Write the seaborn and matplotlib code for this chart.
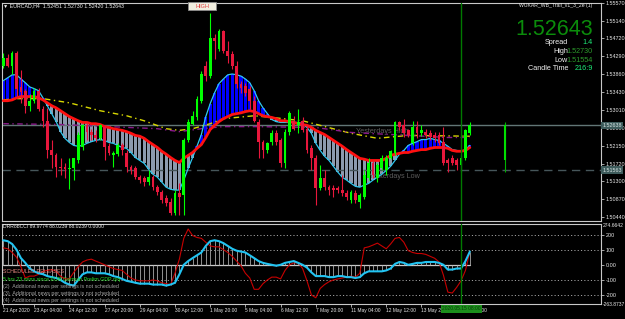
import numpy as np
import pandas as pd
import matplotlib
matplotlib.use("Agg")
import matplotlib.pyplot as plt
from matplotlib.patches import Rectangle
import matplotlib.transforms as mtransforms
import seaborn as sns

sns.set_style("dark")
plt.rcParams['font.family'] = ['Liberation Sans', 'DejaVu Sans']
plt.rcParams['patch.edgecolor'] = 'none'
plt.rcParams['patch.linewidth'] = 0

# ---------------- data (EURCAD H4) ----------------
opens = [1.5406,1.5425,1.5406,1.5437,1.5356,1.5347,1.5311,1.5323,1.5347,1.5304,
         1.5275,1.5204,1.5192,1.5164,1.5164,1.5159,1.5161,1.5180,1.5211,1.5264,
         1.5247,1.5240,1.5233,1.5259,1.5214,1.5192,1.5195,1.5216,1.5199,1.5164,
         1.5161,1.5140,1.5137,1.5128,1.5140,1.5116,1.5104,1.5090,1.5080,1.5054,
         1.5102,1.5097,1.5228,1.5268,1.5283,1.5323,1.5406,1.5382,1.5473,1.5447,
         1.5490,1.5442,1.5435,1.5406,1.5364,1.5359,1.5352,1.5323,1.5271,1.5223,
         1.5204,1.5223,1.5245,1.5228,1.5175,1.5247,1.5275,1.5264,1.5275,1.5256,
         1.5209,1.5187,1.5114,1.5137,1.5116,1.5114,1.5114,1.5109,1.5102,1.5085,
         1.5102,1.5080,1.5092,1.5137,1.5175,1.5137,1.5161,1.5156,1.5187,1.5199,
         1.5271,1.5266,1.5252,1.5221,1.5259,1.5245,1.5247,1.5245,1.5242,1.5240,
         1.5223,1.5180,1.5187,1.5180,1.5168,1.5185,1.52451]
highs = [1.5437,1.5435,1.5442,1.5442,1.5397,1.5352,1.5340,1.5354,1.5354,1.5311,
         1.5306,1.5228,1.5199,1.5185,1.5175,1.5185,1.5187,1.5247,1.5268,1.5271,
         1.5256,1.5252,1.5268,1.5264,1.5221,1.5202,1.5221,1.5221,1.5204,1.5168,
         1.5166,1.5145,1.5142,1.5156,1.5145,1.5121,1.5109,1.5097,1.5090,1.5109,
         1.5125,1.5233,1.5280,1.5299,1.5335,1.5394,1.5418,1.5532,1.5482,1.5494,
         1.5492,1.5466,1.5442,1.5418,1.5371,1.5366,1.5359,1.5335,1.5280,1.5228,
         1.5223,1.5252,1.5252,1.5233,1.5256,1.5299,1.5287,1.5304,1.5283,1.5264,
         1.5216,1.5192,1.5168,1.5156,1.5121,1.5121,1.5118,1.5145,1.5109,1.5109,
         1.5109,1.5102,1.5156,1.5185,1.5180,1.5175,1.5192,1.5192,1.5206,1.5275,
         1.5275,1.5280,1.5256,1.5275,1.5275,1.5264,1.5256,1.5252,1.5247,1.5247,
         1.5259,1.5185,1.5192,1.5187,1.5192,1.5256,1.52730]
lows = [1.5402,1.5404,1.5387,1.5335,1.5318,1.5294,1.5299,1.5318,1.5299,1.5259,
        1.5187,1.5161,1.5140,1.5145,1.5137,1.5111,1.5133,1.5173,1.5204,1.5228,
        1.5228,1.5223,1.5228,1.5180,1.5192,1.5164,1.5190,1.5192,1.5152,1.5147,
        1.5135,1.5125,1.5118,1.5121,1.5109,1.5097,1.5078,1.5071,1.5049,1.5049,
        1.5049,1.5049,1.5223,1.5264,1.5278,1.5318,1.5371,1.5378,1.5423,1.5442,
        1.5437,1.5413,1.5399,1.5354,1.5342,1.5335,1.5304,1.5271,1.5187,1.5187,
        1.5199,1.5216,1.5216,1.5164,1.5161,1.5242,1.5252,1.5245,1.5247,1.5199,
        1.5156,1.5073,1.5109,1.5109,1.5097,1.5092,1.5102,1.5095,1.5085,1.5078,
        1.5078,1.5066,1.5087,1.5133,1.5137,1.5128,1.5156,1.5145,1.5183,1.5192,
        1.5252,1.5235,1.5235,1.5216,1.5233,1.5238,1.5233,1.5228,1.5225,1.5216,
        1.5168,1.5152,1.5168,1.5156,1.5152,1.5180,1.52420]
closes = [1.5425,1.5406,1.5437,1.5352,1.5344,1.5311,1.5323,1.5347,1.5304,1.5275,
          1.5204,1.5192,1.5164,1.5161,1.5159,1.5161,1.5185,1.5240,1.5264,1.5247,
          1.5240,1.5233,1.5264,1.5211,1.5199,1.5197,1.5216,1.5204,1.5164,1.5156,
          1.5140,1.5133,1.5128,1.5140,1.5116,1.5104,1.5085,1.5078,1.5054,1.5102,
          1.5092,1.5228,1.5271,1.5287,1.5328,1.5387,1.5382,1.5473,1.5466,1.5490,
          1.5442,1.5430,1.5406,1.5364,1.5354,1.5342,1.5323,1.5275,1.5223,1.5204,
          1.5221,1.5245,1.5223,1.5175,1.5247,1.5294,1.5256,1.5271,1.5252,1.5204,
          1.5185,1.5114,1.5137,1.5116,1.5109,1.5109,1.5109,1.5102,1.5092,1.5104,
          1.5085,1.5097,1.5145,1.5175,1.5145,1.5168,1.5185,1.5187,1.5202,1.5271,
          1.5259,1.5245,1.5240,1.5259,1.5245,1.5252,1.5240,1.5235,1.5233,1.5221,
          1.5175,1.5175,1.5175,1.5168,1.5185,1.5252,1.52643]

trail_red = [1.5323,1.5323,1.5325,1.5330,1.5333,1.5333,1.5333,1.5333,1.5330,1.5325,
             1.5318,1.5311,1.5306,1.5299,1.5292,1.5285,1.5280,1.5275,1.5271,1.5271,
             1.5268,1.5268,1.5266,1.5261,1.5259,1.5256,1.5254,1.5252,1.5249,1.5245,
             1.5240,1.5238,1.5233,1.5225,1.5218,1.5211,1.5202,1.5195,1.5187,1.5180,
             1.5175,1.5185,1.5192,1.5199,1.5209,1.5218,1.5235,1.5254,1.5264,1.5273,
             1.5280,1.5285,1.5290,1.5292,1.5294,1.5297,1.5299,1.5297,1.5292,1.5287,
             1.5285,1.5283,1.5280,1.5275,1.5275,1.5273,1.5271,1.5268,1.5266,1.5264,
             1.5259,1.5252,1.5247,1.5242,1.5235,1.5228,1.5221,1.5214,1.5206,1.5199,
             1.5192,1.5185,1.5183,1.5180,1.5180,1.5180,1.5180,1.5185,1.5192,1.5195,
             1.5197,1.5199,1.5199,1.5202,1.5204,1.5206,1.5206,1.5209,1.5211,1.5211,
             1.5211,1.5209,1.5204,1.5202,1.5202,1.5204,1.5211]
trail_cyan = [1.5371,1.5378,1.5385,1.5385,1.5375,1.5366,1.5356,1.5352,1.5347,1.5330,
              1.5311,1.5292,1.5273,1.5249,1.5233,1.5223,1.5216,1.5214,1.5216,1.5221,
              1.5225,1.5228,1.5230,1.5228,1.5223,1.5221,1.5216,1.5211,1.5209,1.5199,
              1.5187,1.5180,1.5173,1.5159,1.5147,1.5140,1.5128,1.5116,1.5111,1.5109,
              1.5109,1.5133,1.5161,1.5187,1.5214,1.5242,1.5285,1.5316,1.5342,1.5364,
              1.5375,1.5385,1.5387,1.5385,1.5382,1.5375,1.5366,1.5347,1.5323,1.5306,
              1.5292,1.5278,1.5273,1.5271,1.5271,1.5271,1.5271,1.5271,1.5268,1.5259,
              1.5245,1.5221,1.5204,1.5190,1.5180,1.5166,1.5152,1.5140,1.5133,1.5125,
              1.5118,1.5116,1.5121,1.5125,1.5133,1.5140,1.5147,1.5156,1.5166,1.5180,
              1.5195,1.5204,1.5216,1.5221,1.5225,1.5230,1.5230,1.5233,1.5230,1.5228,
              1.5221,1.5214,1.5206,1.5204,1.5202,1.5206,1.5216]

yellow_idx = [0,3,9,15,22,28,32,37,40,43,47,50,53,57,61,68,72,79,85,92,106]
yellow_ma = [1.5325,1.5328,1.5328,1.5318,1.5299,1.5287,1.5275,1.5256,1.5252,1.5256,
             1.5268,1.5280,1.5283,1.5287,1.5283,1.5275,1.5264,1.5245,1.5233,1.5240,1.5238]
purple_idx = [0,13,35,40,45,50,57,71,79,101,106]
purple_ma = [1.5268,1.5266,1.5256,1.5249,1.5256,1.5261,1.5261,1.5259,1.5247,1.5235,1.5235]

yest_high = 1.52638
yest_low = 1.51563
day_range = (1.5152, 1.5273)
day_body = (1.5180, 1.5266)

cci_cyan = [165,159,140,102,45,13,-25,-44,-57,-63,
            -76,-83,-89,-102,-121,-133,-140,-102,-64,-51,
            -51,-57,-57,-57,-64,-76,-83,-95,-108,-114,
            -121,-127,-127,-127,-133,-133,-133,-140,-133,-121,
            -64,0,25,45,64,83,127,159,165,159,
            146,127,108,95,89,83,64,45,25,13,
            6,0,-6,0,13,19,25,13,0,-19,
            -51,-76,-76,-76,-83,-83,-76,-76,-83,-83,
            -89,-83,-57,-44,-44,-44,-44,-38,-25,6,
            19,13,0,6,13,13,19,19,19,13,
            0,-32,-32,-25,-25,25,89]
cci_red = [114,108,83,51,-13,-89,-76,-76,-64,-44,
           -38,-32,-44,-76,-95,-95,-51,-13,19,32,
           38,25,13,0,-13,-25,-32,-38,-64,-89,
           -102,-108,-108,-108,-102,-108,-121,-127,-133,-57,
           38,178,241,197,184,178,152,127,121,121,
           102,83,57,25,-6,-57,-89,-165,-165,-127,
           -102,-83,-83,-95,-38,0,13,13,-25,-108,
           -203,-222,-159,-133,-114,-102,-95,-89,-83,-76,
           -83,-57,114,121,133,146,127,108,140,178,
           184,152,95,83,76,76,70,57,44,19,
           -70,-184,-190,-152,-108,-38,89]

price_ticks = [1.55570,1.55140,1.54720,1.54290,1.53860,1.53430,1.53010,
               1.52580,1.52150,1.51720,1.51300,1.50870,1.50440]
cci_ticks = [200, 100, 0, -100, -200]
cci_tick_labels = ['200', '100', '0.00', '-100', '-200']
time_tick_idx = [0,7,15,23,31,39,47,55,63,71,79,87,95,103]
time_tick_labels = ['21 Apr 2020','23 Apr 04:00','24 Apr 12:00','27 Apr 20:00',
                    '29 Apr 04:00','30 Apr 12:00','1 May 20:00','5 May 04:00',
                    '6 May 12:00','7 May 20:00','11 May 04:00','12 May 12:00',
                    '13 May 20:00','15 May 04:00']
marker_idx = 104.1
range_idx = 114

# ---------------- figure ----------------
W, H = 625, 319
fig = plt.figure(figsize=(W/100, H/100), dpi=100, facecolor='black')
ax = fig.add_axes([2/W, 1-221/H, 599/W, 218/H])
ax2 = fig.add_axes([2/W, 1-304/H, 599/W, 80/H])
for a in (ax, ax2):
    a.set_facecolor('black')
    a.grid(False)
    for s in a.spines.values():
        s.set_color('#c8c8c8')
        s.set_linewidth(0.8)

n = len(closes)
idx = np.arange(n)
df = pd.DataFrame({'i': idx, 'o': opens, 'h': highs, 'l': lows, 'c': closes,
                   'red': trail_red, 'cyan': trail_cyan,
                   'cci_c': cci_cyan, 'cci_r': cci_red})

# trail histogram between lines
up = df['cyan'] >= df['red']
lo = np.minimum(df['cyan'], df['red'])
hi = np.maximum(df['cyan'], df['red'])
ax.bar(df['i'], hi - lo, bottom=lo, width=0.72, linewidth=0, edgecolor='none',
       color=np.where(up, '#0000FF', '#8C9AAE'), zorder=1)

# horizontal levels
ax.axhline(yest_high, color='#627676', lw=1.0, zorder=1.5)
ax.axhline(yest_low, color='#46565a', lw=1.0, ls=(0, (6, 4)), zorder=1.5)
ax.text(80.2, 1.5250, 'Yesterdays High', color='#5c5c5c', fontsize=5.2,
        va='center', ha='left', zorder=1.6)
ax.text(83, 1.5141, 'Yesterdays Low', color='#5c5c5c', fontsize=5.2,
        va='center', ha='left', zorder=1.6)

# moving averages
sns.lineplot(x=yellow_idx, y=yellow_ma, ax=ax, color='#D8D800', linewidth=1.0, zorder=2)
ax.lines[-1].set_linestyle((0, (4, 2.5, 1, 2.5)))
sns.lineplot(x=purple_idx, y=purple_ma, ax=ax, color='#8A1A8A', linewidth=1.0, zorder=2)
ax.lines[-1].set_linestyle((0, (4, 2.5, 1, 2.5)))
sns.lineplot(data=df, x='i', y='cyan', ax=ax, color='#30C8F0', linewidth=0.9, zorder=3)
sns.lineplot(data=df, x='i', y='red', ax=ax, color='#FF1010', linewidth=2.0, zorder=3)

# candles
bull = df['c'] >= df['o']
ccol = np.where(bull, '#00FF00', '#E8173C')
ax.vlines(df['i'], df['l'], df['h'], colors=ccol, lw=0.8, zorder=4)
body_lo = np.minimum(df['o'], df['c'])
body_h = np.maximum(np.abs(df['c'] - df['o']), 0.00009)
ax.bar(df['i'], body_h, bottom=body_lo, width=0.62, color=ccol, linewidth=0,
       edgecolor='none', zorder=5)

# day range bar and time marker
ax.vlines(range_idx, day_range[0], day_range[1], colors='#00B000', lw=0.8, zorder=4)
ax.vlines(range_idx, day_body[0], day_body[1], colors='#00E000', lw=1.5, zorder=4)
ax.axvline(marker_idx, color='#007A00', lw=1.0, zorder=6)
ax2.axvline(marker_idx, color='#007A00', lw=1.0, zorder=6)

ax.set_xlim(-0.3, 135.8)
ax.set_ylim(1.5035, 1.5554)
ax.set_xticks([])
ax.set_xlabel('')
ax.set_ylabel('')
ax.yaxis.tick_right()
ax.set_yticks(price_ticks)
ax.set_yticklabels([f'{p:.5f}' for p in price_ticks])
ax.tick_params(axis='y', which='both', right=True, left=False, labelright=True,
               labelleft=False, colors='#e8e8e8', labelsize=3.9, length=2.2,
               width=0.5, pad=1.0)
ytr = ax.get_yaxis_transform()
for val in (yest_high, yest_low):
    ax.text(1.002, val, f'{val:.5f}', transform=ytr, ha='left', va='center',
            fontsize=3.9, color='#d8e4e4', clip_on=False, zorder=10,
            bbox=dict(boxstyle='square,pad=0.25', facecolor='#3e5c5c', edgecolor='none'))

# ---------------- oscillator panel ----------------
for lv in (200, 100, -100, -200):
    ax2.axhline(lv, color='#a0a0a0', lw=0.7, ls=(0, (1.2, 2.2)), zorder=1)
ax2.plot([0, n - 1], [0, 0], color='#c8c8c8', lw=0.9, zorder=2)
ax2.vlines(df['i'], 0, df['cci_c'], colors='#a8a8a8', lw=0.6, zorder=2)
sns.lineplot(data=df, x='i', y='cci_r', ax=ax2, color='#C80000', linewidth=0.8, zorder=3)
sns.lineplot(data=df, x='i', y='cci_c', ax=ax2, color='#22C4F2', linewidth=1.5, zorder=4)
ax2.set_xlim(-0.3, 135.8)
ax2.set_ylim(-263.8737, 274.6642)
ax2.set_xlabel('')
ax2.set_ylabel('')
ax2.yaxis.tick_right()
ax2.set_yticks(cci_ticks)
ax2.set_yticklabels(cci_tick_labels)
ax2.tick_params(axis='y', which='both', right=True, left=False, labelright=True,
                labelleft=False, colors='#e8e8e8', labelsize=3.9, length=2.2,
                width=0.5, pad=1.0)
ax2.text(1.003, 0.985, '274.6642', transform=ax2.transAxes, ha='left', va='center',
         fontsize=3.6, color='#e8e8e8', clip_on=False)
ax2.text(1.003, 0.0, '-263.8737', transform=ax2.transAxes, ha='left', va='center',
         fontsize=3.6, color='#e8e8e8', clip_on=False)
ax2.set_xticks(time_tick_idx)
ax2.set_xticklabels(time_tick_labels)
ax2.tick_params(axis='x', which='both', bottom=True, colors='#e8e8e8', labelsize=3.5,
                length=2, width=0.5, pad=1.2)
for t in ax2.get_xticklabels():
    t.set_ha('left')
xtr = mtransforms.blended_transform_factory(ax2.transData, ax2.transAxes)
ax2.text(marker_idx, -0.03, '2020.05.15 08:00', transform=xtr, ha='center', va='top',
         fontsize=3.5, color='#0a3a0a', clip_on=False, zorder=10,
         bbox=dict(boxstyle='square,pad=0.3', facecolor='#1c8f1c', edgecolor='none'))

# ---------------- overlay texts ----------------
def ft(x, y, s, **kw):
    fig.text(x / W, 1 - y / H, s, **kw)

ft(3, 6, '\u25bc EURCAD,H4  1.52451 1.52730 1.52420 1.52643', color='#f0f0f0',
   fontsize=3.8, va='center', ha='left')
fig.patches.append(Rectangle((188 / W, 1 - 10 / H), 28 / W, 8 / H, transform=fig.transFigure,
                             facecolor='#f1eedf', edgecolor='#8a8a8a', lw=0.6, zorder=5))
ft(202, 6, 'HIGH', color='#e03a3a', fontsize=4.0, ha='center', va='center', zorder=6)

ft(592, 6, 'WUKAR_WB_Trail_v1_3_2e (1)', color='#e8e8e8', fontsize=3.7,
   ha='right', va='center')
ft(593, 29.5, '1.52643', color='#0b8c0b', fontsize=15.5, ha='right', va='center')
rows = [('Spread', '1.4', '#1EF07A', 43), ('High', '1.52730', '#2c9a2c', 51.5),
        ('Low', '1.51554', '#2c9a2c', 60), ('Candle Time', '216:9', '#1EF07A', 68)]
for lab, val, col, yy in rows:
    ft(568, yy, lab, color='#f0f0f0', fontsize=5.2, ha='right', va='center')
    ft(593, yy, val, color=col, fontsize=5.2, ha='right', va='center')

ft(3, 227, 'DRRobCCI 89.9774 88.0239 88.0239 0.0000', color='#f0f0f0', fontsize=3.6,
   ha='left', va='center')
ft(3, 271.5, 'SCHEDULED RELEASES', color='#e88a82', fontsize=3.8, ha='left', va='center')
ft(3, 279.5, '5 hrs 23 mins since EUR German Prelim GDP q/q', color='#2adf2a',
   fontsize=3.8, ha='left', va='center')
for k, yy in zip((2, 3, 4), (286.5, 293.5, 300.5)):
    ft(3, yy, f'({k})  Additional news per settings is not scheduled', color='#a4a4a4',
       fontsize=3.8, ha='left', va='center')

fig.savefig('out.png', dpi=100, facecolor='black')
